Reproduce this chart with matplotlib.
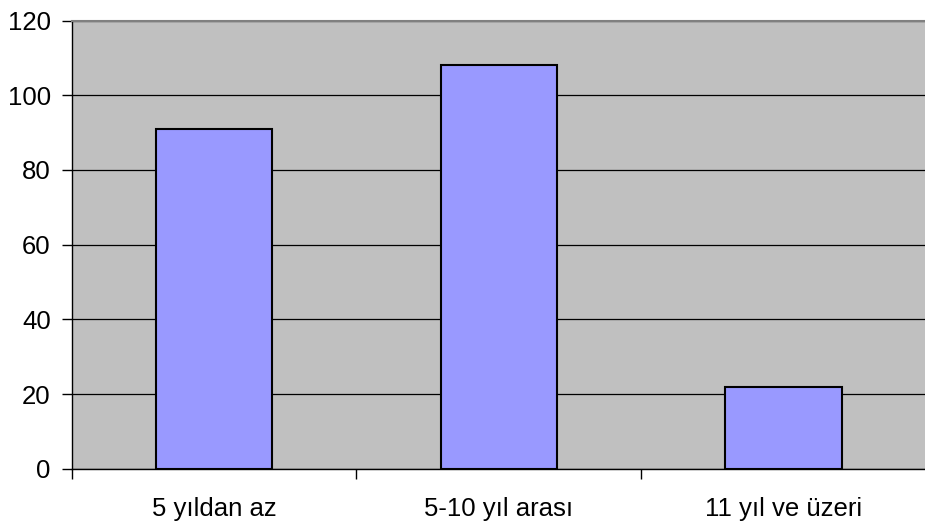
import numpy as np
import matplotlib.pyplot as plt

# Data
categories = ['5 yıldan az', '5-10 yıl arası', '11 yıl ve üzeri']
counts = [91, 108, 22]
y_ticks = [0, 20, 40, 60, 80, 100, 120]

plt.rcParams['font.family'] = ['Liberation Sans', 'DejaVu Sans']

fig = plt.figure(figsize=(9.25, 5.23), dpi=100)
ax = fig.add_axes([0.0773, 0.1033, 0.9237, 0.8575])

ax.set_facecolor('#c0c0c0')
x = np.arange(len(categories))
ax.bar(x, counts, width=0.408, color='#9999ff', edgecolor='black', linewidth=1.5, zorder=3)

ax.set_xlim(-0.5, len(categories) - 0.5)
ax.set_ylim(0, 120)
ax.set_yticks(y_ticks)
ax.set_yticklabels([str(v) for v in y_ticks], fontsize=18.5)
ax.yaxis.grid(True, color='black', linewidth=0.9, zorder=1)
ax.set_axisbelow(True)

# category labels centred, ticks on the boundaries
ax.set_xticks(x)
ax.set_xticklabels(categories, fontsize=18.5)
ax.tick_params(axis='x', which='major', length=0, pad=20)
ax.set_xticks(np.arange(len(categories) + 1) - 0.5, minor=True)
ax.tick_params(axis='x', which='minor', length=7, width=1, direction='out')
ax.tick_params(axis='y', length=7, width=1, pad=8)

ax.spines['top'].set_color('#808080')
ax.spines['top'].set_linewidth(1.5)
ax.spines['right'].set_visible(False)
ax.spines['left'].set_linewidth(1)
ax.spines['bottom'].set_linewidth(1)

fig.savefig('out.png', dpi=100)
